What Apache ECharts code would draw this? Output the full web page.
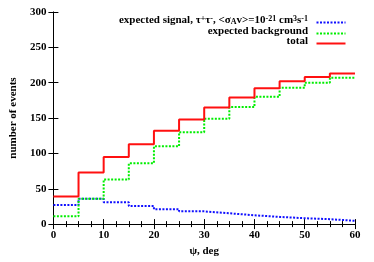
<!DOCTYPE html>
<html><head><meta charset="utf-8">
<script src="https://cdn.jsdelivr.net/npm/echarts@6/dist/echarts.min.js"></script>
<style>html,body{margin:0;padding:0;background:#fff}#c{width:374px;height:262px}</style>
</head><body><div id="c"></div>
<script>
var binEdges = [0, 5, 10, 15, 20, 25, 30, 35, 40, 45, 50, 55, 60];
var signal = [27, 36, 31, 25.5, 21, 18, 15.3, 12.5, 10.2, 8.3, 7, 4.6];
var background = [11, 36, 63, 86, 110, 130, 149, 165.5, 180, 193, 200, 207];
var total = [39, 73, 95, 113, 132, 148, 165, 179, 192, 202, 208, 213];
var xTicks = [0, 10, 20, 30, 40, 50, 60];
var yTicks = [0, 50, 100, 150, 200, 250, 300];
var seriesNames = ['expected signal', 'expected background', 'total'];

function stepData(vals) {
  var d = [];
  for (var i = 0; i < vals.length; i++) d.push([binEdges[i], vals[i]]);
  d.push([binEdges[binEdges.length - 1], vals[vals.length - 1]]);
  return d;
}
var FONT = 'Liberation Serif';
var COLORS = ['#1010ff', '#00ee00', '#ff1010'];
var DASH = [[2, 1.5], [2, 1.5], 'solid'];
var chart = echarts.init(document.getElementById('c'), null, {renderer: 'canvas'});
var baseX = {
  type: 'value', min: xTicks[0], max: xTicks[xTicks.length - 1], interval: 10,
  splitLine: {show: false}
};
var baseY = {
  type: 'value', min: yTicks[0], max: yTicks[yTicks.length - 1], interval: 50,
  splitLine: {show: false}
};
var rich = {
  t: {fontFamily: FONT, fontWeight: 'bold', fontSize: 11, fill: '#000', color: '#000'},
  sup: {fontFamily: FONT, fontWeight: 'bold', fontSize: 8, fill: '#000', color: '#000', verticalAlign: 'top'},
  sub: {fontFamily: FONT, fontWeight: 'bold', fontSize: 8, fill: '#000', color: '#000', verticalAlign: 'bottom'}
};
var legendTexts = [
  '{t|expected signal, τ}{sup|+}{t|τ}{sup|-}{t|, <σ}{sub|A}{t|v>=10}{sup|-21}{t| cm}{sup|3}{t|s}{sup|-1}',
  '{t|expected background}',
  '{t|total}'
];
var rowY = [21, 32, 42];
var graphics = [];
for (var i = 0; i < 3; i++) {
  graphics.push({
    type: 'text', right: 66, top: rowY[i] - 6, z: 100,
    style: {text: legendTexts[i], rich: rich, align: 'right', font: 'bold 11px ' + FONT, fill: '#000'}
  });
  graphics.push({
    type: 'line', left: 314, top: rowY[i] - 1, z: 100,
    shape: {x1: 0, y1: 0, x2: 29, y2: 0},
    style: {stroke: COLORS[i], lineWidth: 2, lineDash: DASH[i] === 'solid' ? null : DASH[i]}
  });
}
chart.setOption({
  animation: false,
  grid: {left: 52, right: 19, top: 12, bottom: 34},
  graphic: graphics,
  xAxis: [
    Object.assign({}, baseX, {
      position: 'bottom',
      name: 'ψ, deg', nameLocation: 'middle', nameGap: 20,
      nameTextStyle: {fontFamily: FONT, fontWeight: 'bold', fontSize: 11, color: '#000'},
      axisLine: {lineStyle: {color: '#555', width: 1}},
      axisTick: {inside: true, length: 5, lineStyle: {color: '#000'}},
      minorTick: {show: true, splitNumber: 4, length: 3, lineStyle: {color: '#000'}},
      axisLabel: {fontFamily: FONT, fontWeight: 'bold', fontSize: 11, color: '#000', margin: 6}
    }),
    Object.assign({}, baseX, {
      position: 'top',
      axisLine: {lineStyle: {color: '#000', width: 1}},
      axisTick: {inside: true, length: 5, lineStyle: {color: '#000'}},
      minorTick: {show: true, splitNumber: 4, length: 3, lineStyle: {color: '#000'}},
      axisLabel: {show: false}
    })
  ],
  yAxis: [
    Object.assign({}, baseY, {
      position: 'left',
      name: 'number of events', nameLocation: 'middle', nameGap: 34,
      nameTextStyle: {fontFamily: FONT, fontWeight: 'bold', fontSize: 11, color: '#000'},
      axisLine: {show: true, lineStyle: {color: '#888', width: 1}},
      axisTick: {inside: true, length: 5, lineStyle: {color: '#000'}},
      axisLabel: {fontFamily: FONT, fontWeight: 'bold', fontSize: 11, color: '#000', margin: 7}
    }),
    Object.assign({}, baseY, {
      position: 'right',
      axisLine: {show: true, lineStyle: {color: '#000', width: 1}},
      axisTick: {inside: true, length: 5, lineStyle: {color: '#000'}},
      axisLabel: {show: false}
    })
  ],
  series: [
    {name: seriesNames[0], type: 'line', step: 'end', symbol: 'none', data: stepData(signal),
      lineStyle: {color: COLORS[0], width: 2, type: DASH[0]}},
    {name: seriesNames[1], type: 'line', step: 'end', symbol: 'none', data: stepData(background),
      lineStyle: {color: COLORS[1], width: 2, type: DASH[1]}},
    {name: seriesNames[2], type: 'line', step: 'end', symbol: 'none', data: stepData(total),
      lineStyle: {color: COLORS[2], width: 2}}
  ]
});
</script></body></html>
